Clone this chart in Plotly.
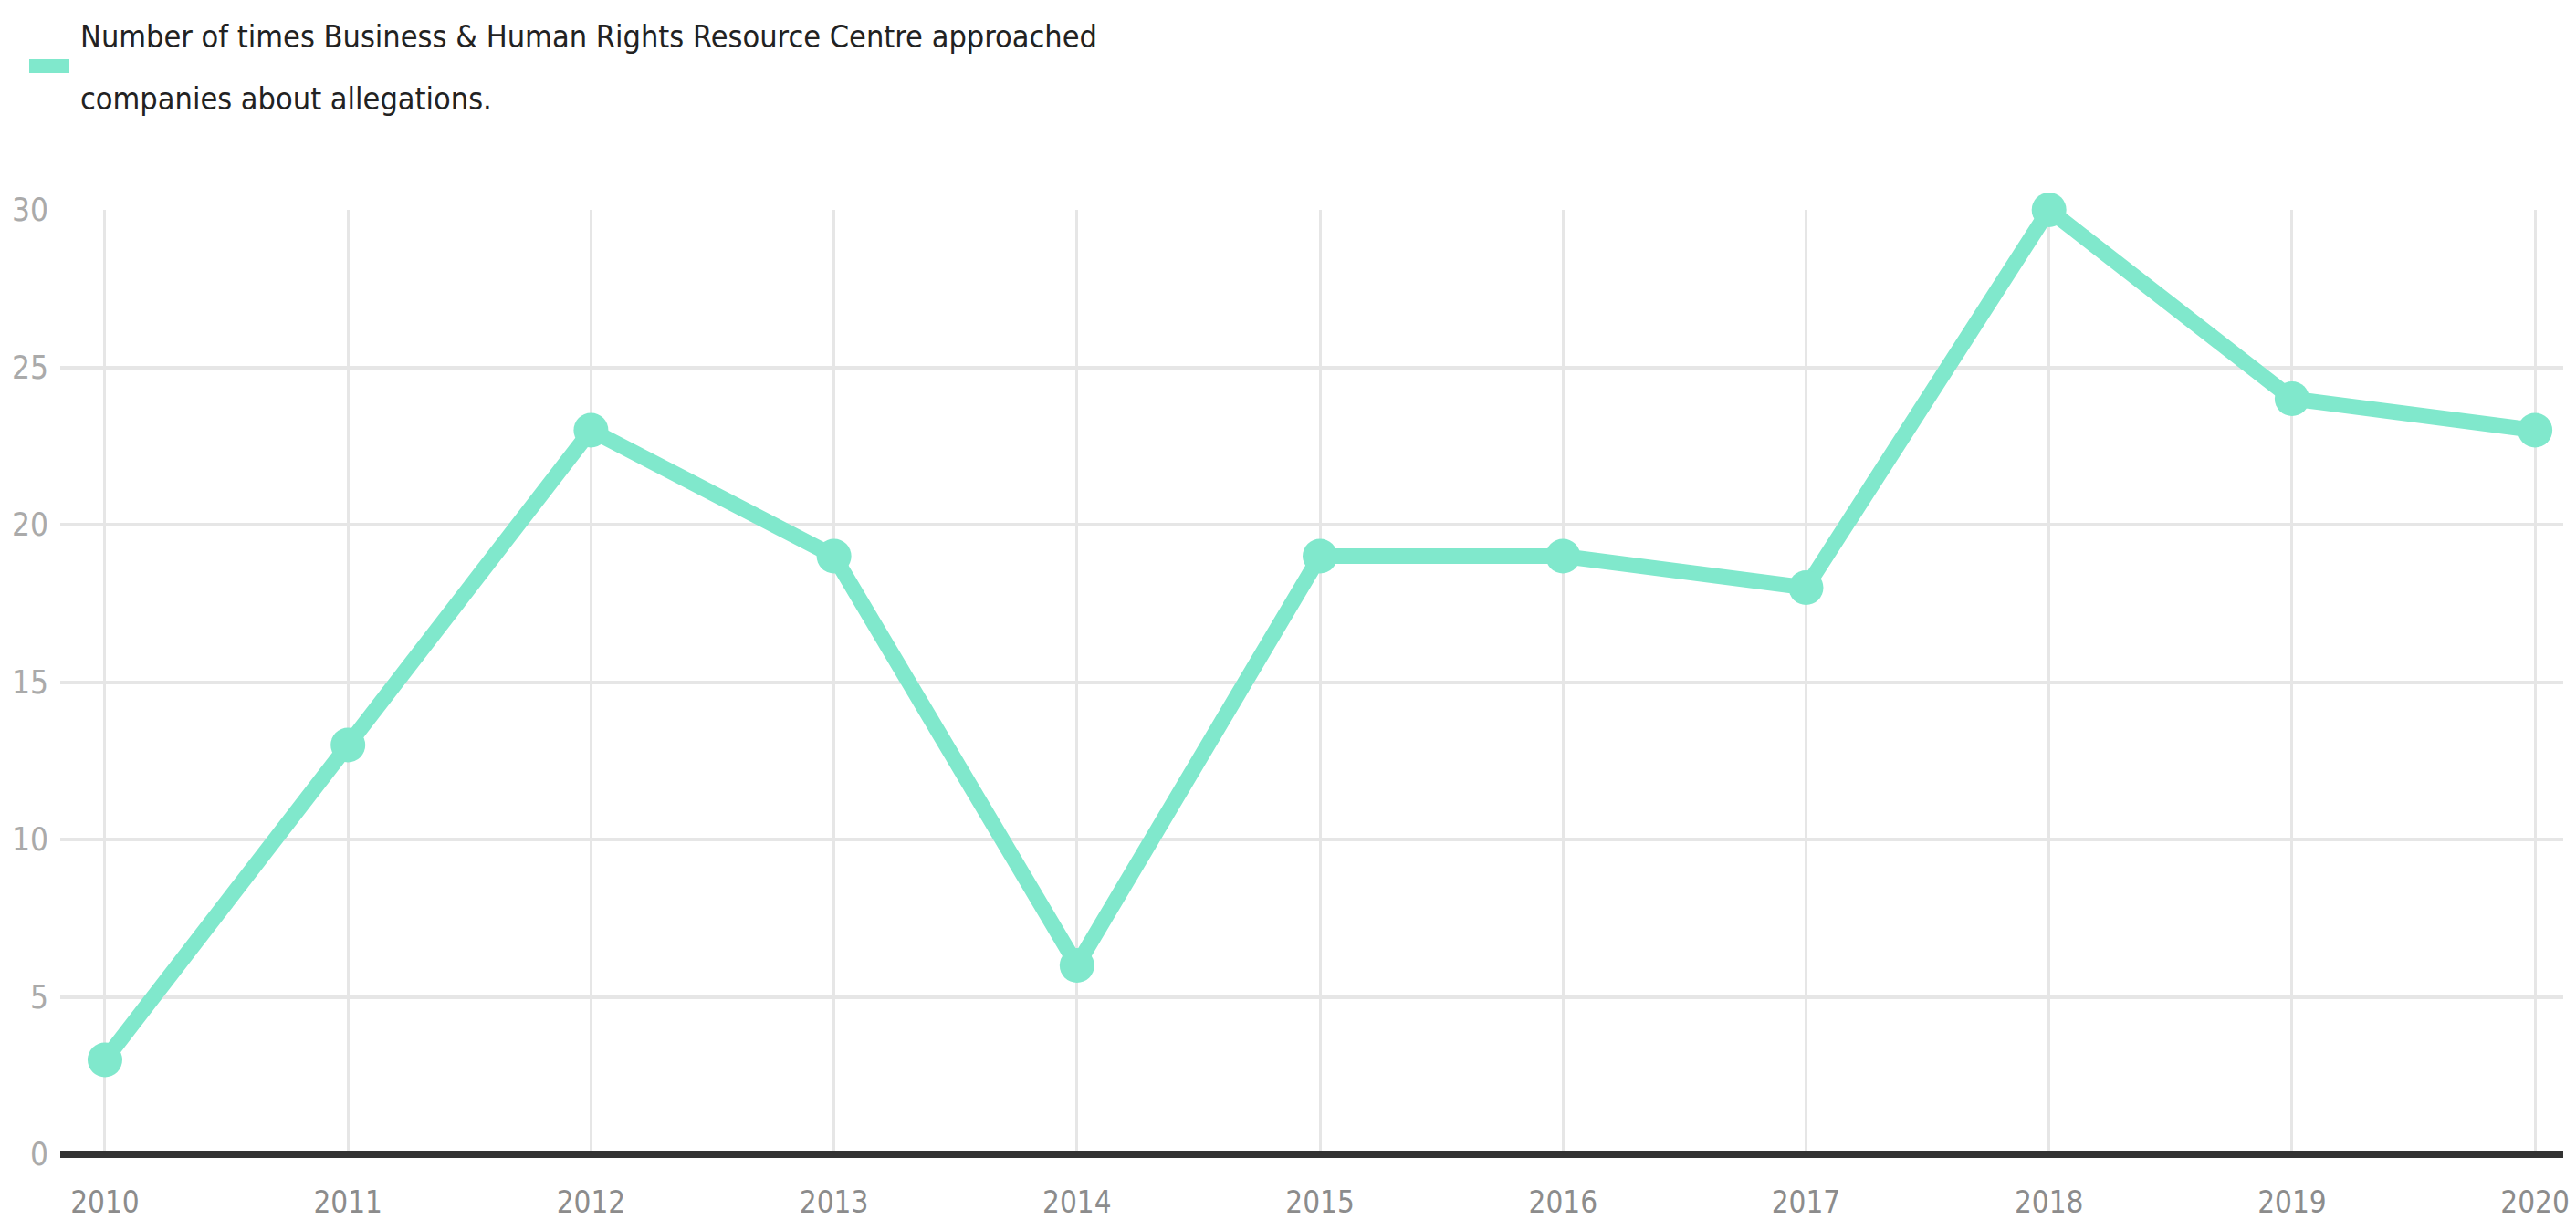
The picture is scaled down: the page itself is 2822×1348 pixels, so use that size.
import plotly.graph_objects as go

years = [2010, 2011, 2012, 2013, 2014, 2015, 2016, 2017, 2018, 2019, 2020]
approaches = [3, 13, 23, 19, 6, 19, 19, 18, 30, 24, 23]
y_ticks = [0, 5, 10, 15, 20, 25, 30]
legend_lines = ["Number of times Business & Human Rights Resource Centre approached",
                "companies about allegations."]

COLOR = "#80e8cc"
FONT = "DejaVu Sans Condensed, Liberation Sans Narrow, Roboto, Liberation Sans, sans-serif"
# page body has an 8px margin; compensate so the figure fills the 2822x1348 window
OFF = 8
W, H = 2822 - OFF, 1348 - OFF
ML, MR, MT, MB = 66 - OFF, 14, 230 - OFF, 83
PW, PH = W - ML - MR, H - MT - MB


def px_x(x):
    return (x - OFF - ML) / PW


def px_y(y):
    return (H - MB - (y - OFF)) / PH


fig = go.Figure()
fig.add_trace(go.Scatter(
    x=years, y=approaches, mode="lines+markers",
    name=" ".join(legend_lines),
    line=dict(color=COLOR, width=17),
    marker=dict(color=COLOR, size=38),
    cliponaxis=False, showlegend=False,
))

# legend drawn as swatch + text lines
fig.add_shape(type="rect", xref="paper", yref="paper",
              x0=px_x(32), x1=px_x(76), y0=px_y(80), y1=px_y(65),
              fillcolor=COLOR, line=dict(width=0), layer="above")
for i, txt in enumerate(legend_lines):
    fig.add_annotation(
        text=txt, xref="paper", yref="paper",
        x=px_x(86), y=px_y(40 + 68 * i),
        xanchor="left", yanchor="middle", showarrow=False,
        font=dict(family=FONT, size=34, color="#222222"),
    )

fig.update_layout(
    width=W, height=H,
    margin=dict(l=ML, r=MR, t=MT, b=MB, autoexpand=False),
    plot_bgcolor="white", paper_bgcolor="white",
    font=dict(family=FONT, size=34, color="#999999"),
    showlegend=False,
    xaxis=dict(
        range=[2009.816, 2020.116], tickvals=years, ticktext=[str(y) for y in years],
        showgrid=True, gridcolor="#e6e6e6", gridwidth=3,
        zeroline=False, showline=False, ticks="",
        ticklabelstandoff=30, ticklabeloverflow="allow",
        tickfont=dict(family=FONT, size=33, color="#8c8c8c"),
    ),
    yaxis=dict(
        range=[0, 30], tickvals=y_ticks,
        showgrid=True, gridcolor="#e6e6e6", gridwidth=4,
        zeroline=True, zerolinecolor="#333333", zerolinewidth=8,
        showline=False, ticks="",
        ticklabelstandoff=12,
        tickfont=dict(family=FONT, size=35, color="#aaaaaa"),
    ),
)

fig.write_html("out.html")
